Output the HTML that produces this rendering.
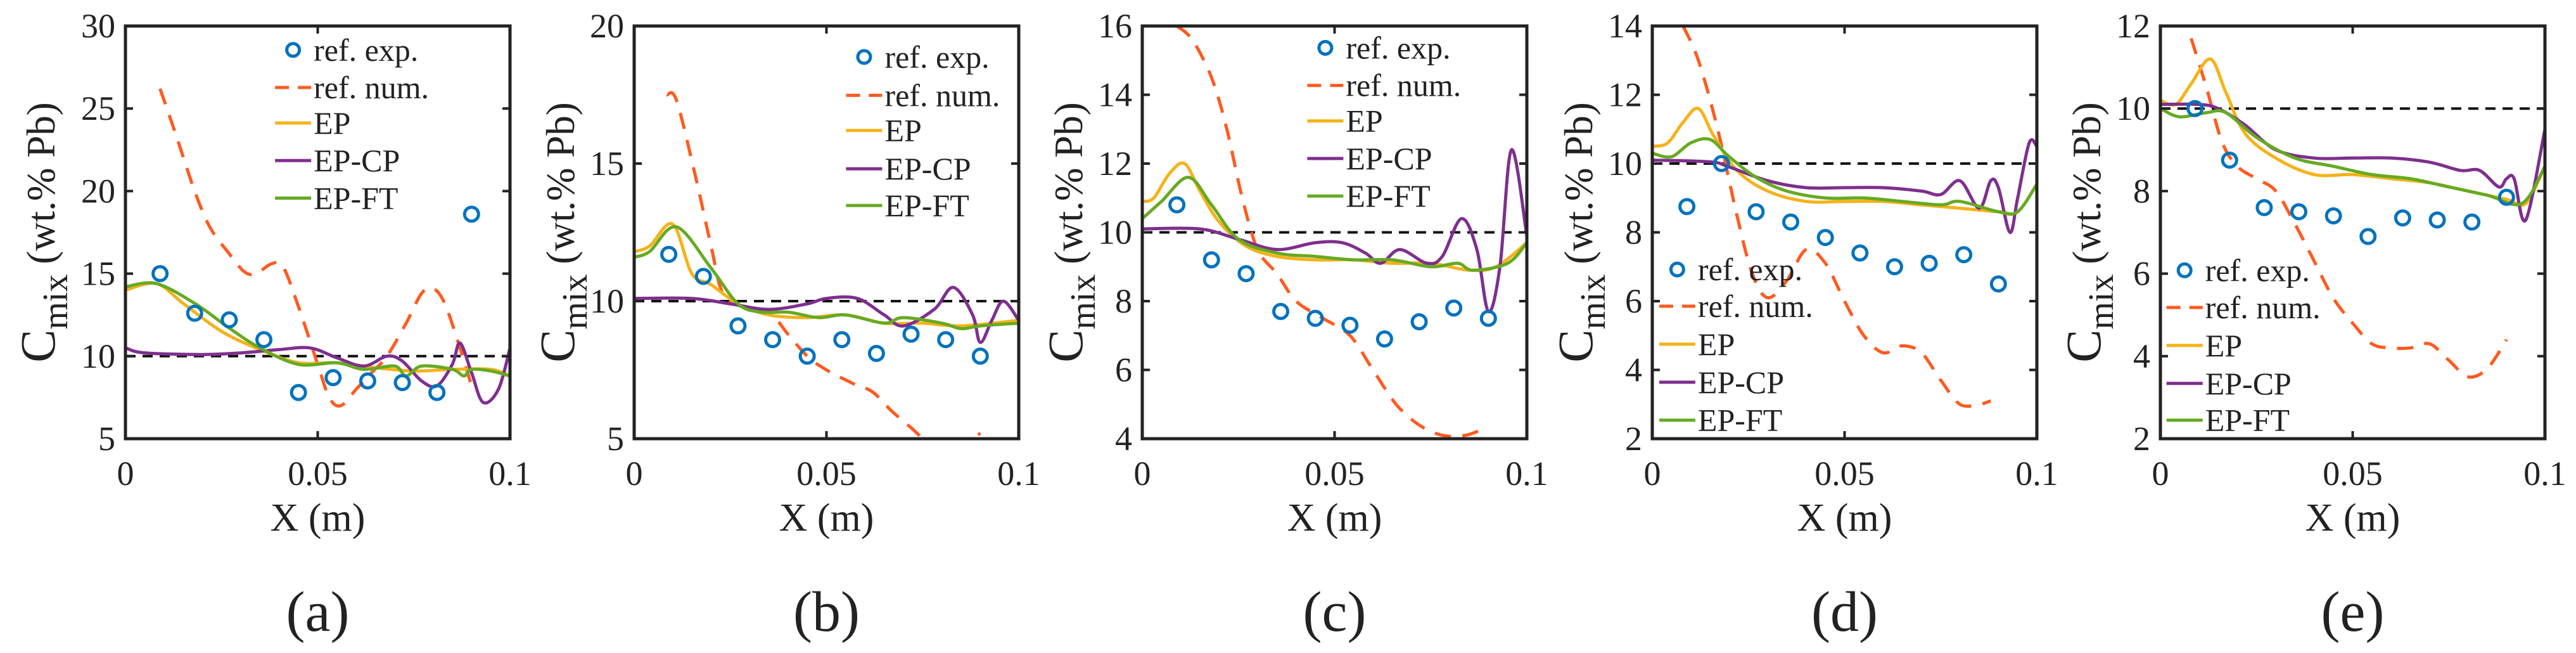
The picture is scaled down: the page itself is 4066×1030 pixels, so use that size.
<!DOCTYPE html>
<html><head><meta charset="utf-8">
<style>
html,body{margin:0;padding:0;background:#fff;}
svg{display:block;font-family:"Liberation Serif","Times New Roman",serif;}
svg text{font-family:"Liberation Serif","Times New Roman",serif;fill:#222;}
</style></head>
<body>
<svg id="fig" width="4066" height="1030" viewBox="0 0 4066 1030" font-family="Liberation Serif, Times New Roman, serif" xmlns="http://www.w3.org/2000/svg"></svg>
<script>
// ---------- data ----------
const panelIds = ['a','b','c','d','e'];
const yMins = [5,5,4,2,2];
const yMaxs = [30,20,16,14,12];
const yTickA = [5,10,15,20,25,30];
const yTickB = [5,10,15,20];
const yTickC = [4,6,8,10,12,14,16];
const yTickD = [2,4,6,8,10,12,14];
const yTickE = [2,4,6,8,10,12];
const xTicks = [0,0.05,0.1];
const xTickLabels = ['0','0.05','0.1'];
const expX = [0.009,0.018,0.027,0.036,0.045,0.054,0.063,0.072,0.081,0.09];
const expA = [15,12.6,12.2,11,7.8,8.7,8.5,8.4,7.8,18.6];
const expB = [11.7,10.9,9.1,8.6,8.0,8.6,8.1,8.8,8.6,8.0];
const expC = [10.8,9.2,8.8,7.7,7.5,7.3,6.9,7.4,7.8,7.5];
const expD = [8.75,10,8.6,8.3,7.85,7.4,7.0,7.1,7.35,6.5];
const expE = [10,8.75,7.6,7.5,7.4,6.9,7.35,7.3,7.25,7.85];

const numAx = [0.009,0.013,0.018,0.022,0.027,0.031,0.034,0.038,0.041,0.045,0.05,0.053,0.056,0.06,0.064,0.068,0.073,0.077,0.08,0.083,0.087,0.09];
const numAy = [26.2,23.5,20,17.8,16.2,15.1,15,15.6,15.4,13,9.5,7.5,7,8,9,10,12,13.8,14.1,13.2,10.5,8.2];
const epAx = [0,0.008,0.015,0.025,0.035,0.045,0.055,0.065,0.075,0.085,0.095,0.1];
const epAy = [14,14.4,13.2,11.5,10.4,9.6,9.6,9.3,9.1,9.2,9.2,8.8];
const cpAx = [0,0.005,0.02,0.03,0.04,0.048,0.055,0.062,0.068,0.072,0.077,0.081,0.085,0.087,0.09,0.093,0.097,0.1];
const cpAy = [10.5,10.2,10.1,10.2,10.4,10.5,9.9,9.4,10,9.7,8.5,8.2,9.5,10.8,9,7.2,8,10.5];
const ftAx = [0,0.008,0.018,0.027,0.035,0.045,0.055,0.062,0.07,0.073,0.077,0.085,0.088,0.09,0.095,0.1];
const ftAy = [14.2,14.4,13.2,11.7,10.5,9.5,9.6,9.2,9.4,8.8,9.4,9.2,8.8,9.2,9.1,8.8];

const numBx = [0.0085,0.011,0.016,0.02,0.023,0.028,0.035,0.04,0.045,0.05,0.057,0.062,0.067,0.072,0.076,0.08,0.085,0.09];
const numBy = [17.5,17.3,14.5,12,10.3,9.8,9.6,8.8,8.0,7.5,7,6.7,6,5.4,4.9,4.6,4.7,5.2];
const epBx = [0,0.004,0.01,0.015,0.02,0.027,0.035,0.045,0.055,0.065,0.075,0.085,0.1];
const epBy = [11.8,12,12.8,11,10.6,9.9,9.5,9.4,9.5,9.2,9.2,9.1,9.3];
const cpBx = [0,0.015,0.025,0.035,0.045,0.05,0.058,0.065,0.07,0.078,0.083,0.088,0.09,0.093,0.096,0.1];
const cpBy = [10.1,10.1,9.9,9.7,9.9,10.1,10.1,9.5,9.1,9.7,10.5,9.5,8.5,9.3,10,9.3];
const ftBx = [0,0.004,0.011,0.02,0.027,0.033,0.04,0.048,0.055,0.065,0.07,0.08,0.085,0.09,0.1];
const ftBy = [11.6,11.8,12.7,11.2,9.9,9.6,9.6,9.4,9.5,9.2,9.4,9.2,9,9.1,9.2];

const numCx = [0.009,0.013,0.018,0.022,0.026,0.03,0.035,0.04,0.047,0.054,0.06,0.066,0.072,0.078,0.084,0.089];
const numCy = [16,15.6,14.5,13,11,9.5,8.8,8.0,7.5,7,6,5,4.4,4.1,4.1,4.3];
const epCx = [0,0.003,0.007,0.011,0.015,0.02,0.027,0.035,0.045,0.055,0.065,0.075,0.085,0.092,0.1];
const epCy = [10.9,11,11.7,12,11.2,10.3,9.6,9.3,9.2,9.2,9.1,9.1,8.9,9,9.7];
const cpCx = [0,0.015,0.025,0.035,0.045,0.052,0.058,0.062,0.067,0.074,0.078,0.083,0.087,0.09,0.093,0.096,0.1];
const cpCy = [10.1,10.1,9.8,9.5,9.7,9.7,9.4,9.1,9.5,9.1,9.3,10.4,9.5,7.7,9,12.4,9.9];
const ftCx = [0,0.005,0.012,0.018,0.025,0.035,0.045,0.055,0.065,0.075,0.082,0.086,0.095,0.1];
const ftCy = [10.4,10.9,11.6,10.8,9.8,9.4,9.3,9.2,9.2,9,9.1,8.9,9.1,9.7];

const numDx = [0.008,0.012,0.017,0.022,0.026,0.03,0.035,0.04,0.045,0.05,0.055,0.06,0.065,0.07,0.075,0.08,0.085,0.088];
const numDy = [14,13,11,8.5,6.8,6.1,6.6,7.5,7.1,6,5,4.5,4.7,4.5,3.7,3,3,3.1];
const epDx = [0,0.004,0.008,0.012,0.016,0.022,0.03,0.04,0.05,0.06,0.07,0.08,0.09,0.095,0.1];
const epDy = [10.5,10.6,11.2,11.6,10.8,9.8,9.2,8.9,8.9,8.9,8.8,8.7,8.6,8.6,9.4];
const cpDx = [0,0.015,0.02,0.03,0.04,0.05,0.06,0.07,0.075,0.08,0.085,0.088,0.09,0.093,0.095,0.098,0.1];
const cpDy = [10.1,10.05,9.9,9.5,9.3,9.3,9.3,9.2,9.1,9.5,8.7,9.5,9.3,8,9,10.6,10.5];
const ftDx = [0,0.005,0.01,0.015,0.02,0.027,0.035,0.045,0.055,0.065,0.075,0.08,0.09,0.095,0.1];
const ftDy = [10.3,10.2,10.6,10.7,10.2,9.6,9.2,9,9,8.9,8.8,8.9,8.6,8.6,9.4];

const numEx = [0.008,0.012,0.016,0.02,0.025,0.03,0.035,0.04,0.045,0.05,0.055,0.06,0.065,0.07,0.075,0.08,0.085,0.09];
const numEy = [11.7,10.5,9.2,8.6,8.3,8,7.2,6.3,5.4,4.8,4.3,4.2,4.2,4.3,3.9,3.5,3.7,4.4];
const epEx = [0,0.004,0.008,0.013,0.017,0.022,0.03,0.04,0.05,0.06,0.07,0.08,0.09,0.095,0.1];
const epEy = [10.2,10.1,10.6,11.2,10.4,9.4,8.8,8.4,8.4,8.3,8.2,8,7.8,7.7,8.6];
const cpEx = [0,0.01,0.015,0.022,0.03,0.04,0.05,0.06,0.07,0.078,0.083,0.088,0.09,0.092,0.095,0.1];
const cpEy = [10.1,10.1,10,9.6,9,8.8,8.8,8.8,8.7,8.5,8.5,8.1,8.3,8.3,7.3,9.5];
const ftEx = [0,0.005,0.012,0.017,0.025,0.035,0.045,0.055,0.065,0.075,0.085,0.094,0.1];
const ftEy = [10,9.8,9.9,9.9,9.3,8.8,8.6,8.4,8.3,8.1,7.9,7.7,8.6];

const refLevel = 10;
const legendLabels = ['ref. exp.','ref. num.','EP','EP-CP','EP-FT'];

// ---------- layout ----------
const NS='http://www.w3.org/2000/svg';
const svg=document.getElementById('fig');
const lefts=[198,1001,1803,2608,3410];
const W=607, TOP=41, BOT=692;
const yLabOff=[112,95,95,95,95];
const legX=[0.389,0.551,0.429,0.018,0.016];
const legY=[[0.058,0.149,0.235,0.326,0.417],[0.075,0.168,0.253,0.346,0.435],[0.053,0.144,0.23,0.321,0.412],[0.59,0.679,0.771,0.863,0.955],[0.592,0.682,0.774,0.866,0.955]];
const C={exp:'#0072BD',num:'#FF5A1F',ep:'#F5B21A',cp:'#7E2F8E',ft:'#66AA22'};
const FF='Liberation Serif, Times New Roman, serif';

function el(tag,attrs,parent){const e=document.createElementNS(NS,tag);for(const k in attrs)e.setAttribute(k,attrs[k]);if(tag==='text')e.setAttribute('font-family',FF);(parent||svg).appendChild(e);return e;}
function smoothPath(pts){
  let d='M'+pts[0][0].toFixed(1)+','+pts[0][1].toFixed(1);
  for(let i=0;i<pts.length-1;i++){
    const p0=pts[Math.max(0,i-1)],p1=pts[i],p2=pts[i+1],p3=pts[Math.min(pts.length-1,i+2)];
    const c1=[p1[0]+(p2[0]-p0[0])/6,p1[1]+(p2[1]-p0[1])/6];
    const c2=[p2[0]-(p3[0]-p1[0])/6,p2[1]-(p3[1]-p1[1])/6];
    d+=' C'+c1[0].toFixed(1)+','+c1[1].toFixed(1)+' '+c2[0].toFixed(1)+','+c2[1].toFixed(1)+' '+p2[0].toFixed(1)+','+p2[1].toFixed(1);
  }
  return d;
}

const yTicksAll=[yTickA,yTickB,yTickC,yTickD,yTickE];
const expAll=[expA,expB,expC,expD,expE];
const numX=[numAx,numBx,numCx,numDx,numEx], numY=[numAy,numBy,numCy,numDy,numEy];
const epX=[epAx,epBx,epCx,epDx,epEx], epY=[epAy,epBy,epCy,epDy,epEy];
const cpX=[cpAx,cpBx,cpCx,cpDx,cpEx], cpY=[cpAy,cpBy,cpCy,cpDy,cpEy];
const ftX=[ftAx,ftBx,ftCx,ftDx,ftEx], ftY=[ftAy,ftBy,ftCy,ftDy,ftEy];

panelIds.forEach((pid,i)=>{
  const L=lefts[i], R=L+W;
  const xs=v=>L+(v-0)/(0.1-0)*W;
  const ys=v=>BOT-(v-yMins[i])/(yMaxs[i]-yMins[i])*(BOT-TOP);
  const g=el('g',{});
  
  
  const clipId='clip'+pid;
  const cp=el('clipPath',{id:clipId},g);
  el('rect',{x:L,y:TOP,width:W,height:BOT-TOP},cp);
  const plot=el('g',{'clip-path':'url(#'+clipId+')'},g);
  
  

  const rl=el('line',{x1:L,x2:R,y1:ys(refLevel),y2:ys(refLevel),stroke:'#111','stroke-width':4,'stroke-dasharray':'16 11'},plot);
  
  

  const series=[['num',numX[i],numY[i],'ref-num-line'],['ep',epX[i],epY[i],'ep-line'],['cp',cpX[i],cpY[i],'ep-cp-line'],['ft',ftX[i],ftY[i],'ep-ft-line']];
  series.forEach(([k,sx,sy,nm])=>{
    const pts=sx.map((x,j)=>[xs(x),ys(sy[j])]);
    const attrs={d:smoothPath(pts),fill:'none',stroke:C[k],'stroke-width':5,'stroke-linejoin':'round'};
    if(k==='num'){attrs['stroke-dasharray']='26 18';}
    const p=el('path',attrs,plot);
    
    
  });
  expX.forEach((x,j)=>{
    const c=el('circle',{cx:xs(x),cy:ys(expAll[i][j]),r:11,fill:'none',stroke:C.exp,'stroke-width':5},plot);
    
    
  });

  const fr=el('rect',{x:L,y:TOP,width:W,height:BOT-TOP,fill:'none',stroke:'#222','stroke-width':5},g);
  
  

  yTicksAll[i].forEach(t=>{
    const y=ys(t);
    el('line',{x1:L,x2:L+12,y1:y,y2:y,stroke:'#222','stroke-width':4},g);
    el('line',{x1:R-12,x2:R,y1:y,y2:y,stroke:'#222','stroke-width':4},g);
    const tx=el('text',{x:L-16,y:y+18,'text-anchor':'end','font-size':54},g);
    tx.textContent=String(t);
    
    
  });
  xTicks.forEach((t,j)=>{
    const x=xs(t);
    el('line',{x1:x,x2:x,y1:BOT,y2:BOT-12,stroke:'#222','stroke-width':4},g);
    el('line',{x1:x,x2:x,y1:TOP,y2:TOP+12,stroke:'#222','stroke-width':4},g);
    const tx=el('text',{x:x,y:765,'text-anchor':'middle','font-size':54},g);
    tx.textContent=xTickLabels[j];
    
    
  });
  const xl=el('text',{x:L+W/2,y:837,'text-anchor':'middle','font-size':62},g);
  xl.textContent='X (m)';
  
  
  const yc=(TOP+BOT)/2, bx=L-yLabOff[i];
  const yl=el('text',{x:bx,y:yc,'text-anchor':'middle','font-size':63,transform:'rotate(-90 '+bx+' '+yc+')'},g);
  
  
  const t1=el('tspan',{'font-size':78},yl); t1.textContent='C';
  const t2=el('tspan',{'font-size':56,dy:20},yl); t2.textContent='mix';
  const t3=el('tspan',{dy:-20},yl); t3.textContent=' (wt.% Pb)';
  const cap=el('text',{x:L+W/2,y:995,'text-anchor':'middle','font-size':90,fill:'#333'},g);
  cap.textContent='('+pid+')';
  
  

  const lg=el('g',{},g);
  
  
  const lx0=L+legX[i]*W, lx1=lx0+57;
  legendLabels.forEach((lab,j)=>{
    const y=TOP+legY[i][j]*(BOT-TOP);
    const e=el('g',{},lg);
    
    
    if(j===0){el('circle',{cx:(lx0+lx1)/2,cy:y,r:10,fill:'none',stroke:C.exp,'stroke-width':5},e);}
    else{
      const col=[null,C.num,C.ep,C.cp,C.ft][j];
      const a={x1:lx0,x2:lx1,y1:y,y2:y,stroke:col,'stroke-width':5};
      if(j===1)a['stroke-dasharray']='22 14';
      el('line',a,e);
    }
    const tt=el('text',{x:lx1+4,y:y+17,'font-size':50},e);
    tt.textContent=lab;
  });
});
</script>
</body></html>
